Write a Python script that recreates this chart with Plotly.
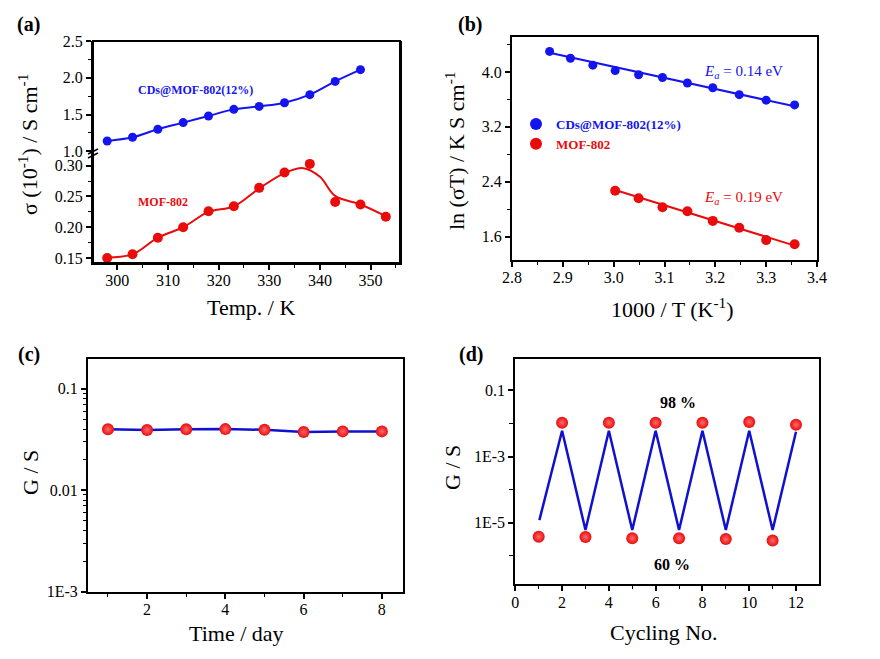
import plotly.graph_objects as go

W, H = 880, 659
FONT = "Liberation Serif, Times New Roman, serif"
BLUE = "#1414f0"
RED = "#e80c0c"

# ---------------- data ----------------
# (a) conductivity vs temperature
temp_cds = [298, 303, 308, 313, 318, 323, 328, 333, 338, 343, 348]
sigma_cds = [1.14, 1.19, 1.30, 1.39, 1.48, 1.57, 1.61, 1.66, 1.77, 1.95, 2.11]
temp_mof = [298, 303, 308, 313, 318, 323, 328, 333, 338, 343, 348, 353]
sigma_mof = [0.150, 0.156, 0.183, 0.200, 0.226, 0.234, 0.264, 0.289, 0.303, 0.241, 0.237, 0.217]
fit_temp_mof = [298, 303, 308, 313, 318, 323, 328, 333, 336.7, 340, 343, 348, 353]
fit_sigma_mof = [0.151, 0.156, 0.183, 0.200, 0.225, 0.234, 0.263, 0.288, 0.296, 0.282, 0.251, 0.237, 0.218]

# (b) Arrhenius plot
invT_cds = [2.874, 2.915, 2.959, 3.003, 3.049, 3.096, 3.145, 3.195, 3.247, 3.300, 3.356]
lnsT_cds = [4.30, 4.20, 4.10, 4.02, 3.96, 3.92, 3.84, 3.77, 3.67, 3.59, 3.52]
invT_mof = [3.003, 3.049, 3.096, 3.145, 3.195, 3.247, 3.300, 3.356]
lnsT_mof = [2.27, 2.16, 2.03, 1.97, 1.83, 1.73, 1.55, 1.49]
fit_invT_cds = [2.874, 3.356]
fit_lnsT_cds = [4.28, 3.50]
fit_invT_mof = [3.003, 3.356]
fit_lnsT_mof = [2.28, 1.47]

# (c) stability
days = [1, 2, 3, 4, 5, 6, 7, 8]
G_days = [0.0398, 0.0392, 0.0398, 0.0400, 0.0394, 0.0374, 0.0380, 0.0380]

# (d) cycling
cycles = [1, 2, 3, 4, 5, 6, 7, 8, 9, 10, 11, 12]
G_cycles = [3.8e-6, 1.05e-2, 3.7e-6, 1.05e-2, 3.4e-6, 1.05e-2, 3.4e-6, 1.05e-2, 3.2e-6, 1.1e-2, 2.9e-6, 9.1e-3]
line_cycles = [1.03, 2, 3, 4, 5, 6, 7, 8, 9, 10, 11, 12]
line_G = [1.2e-5, 6.0e-3, 6.0e-6, 6.0e-3, 6.0e-6, 6.0e-3, 6.0e-6, 6.0e-3, 6.0e-6, 6.0e-3, 6.0e-6, 5.6e-3]


def px(x):
    return x / W


def py(y):
    return 1 - y / H


red_marker = dict(color=RED, size=12, gradient=dict(type="radial", color="#ff6a6a"), line=dict(width=0))
blue_marker = dict(color=BLUE, size=9, line=dict(width=0))

fig = go.Figure()

# ---- panel (a) ----
fig.add_trace(go.Scatter(x=temp_cds, y=sigma_cds, mode="lines+markers", line=dict(color=BLUE, width=2, shape="spline"),
                         marker=blue_marker, xaxis="x", yaxis="y2", showlegend=False))
fig.add_trace(go.Scatter(x=fit_temp_mof, y=fit_sigma_mof, mode="lines", line=dict(color=RED, width=2, shape="spline"),
                         xaxis="x", yaxis="y", showlegend=False))
fig.add_trace(go.Scatter(x=temp_mof, y=sigma_mof, mode="markers", marker=dict(color=RED, size=10, line=dict(width=0)),
                         xaxis="x", yaxis="y", showlegend=False))

# ---- panel (b) ----
fig.add_trace(go.Scatter(x=fit_invT_cds, y=fit_lnsT_cds, mode="lines", line=dict(color=BLUE, width=2),
                         xaxis="x3", yaxis="y3", showlegend=False))
fig.add_trace(go.Scatter(x=fit_invT_mof, y=fit_lnsT_mof, mode="lines", line=dict(color=RED, width=2),
                         xaxis="x3", yaxis="y3", showlegend=False))
fig.add_trace(go.Scatter(x=invT_cds, y=lnsT_cds, mode="markers", marker=blue_marker, xaxis="x3", yaxis="y3",
                         name="<b><span style='color:%s'>CDs@MOF-802(12%%)</span></b>" % BLUE))
fig.add_trace(go.Scatter(x=invT_mof, y=lnsT_mof, mode="markers", marker=dict(color=RED, size=10, line=dict(width=0)),
                         xaxis="x3", yaxis="y3",
                         name="<b><span style='color:%s'>MOF-802</span></b>" % RED))

# ---- panel (c) ----
fig.add_trace(go.Scatter(x=days, y=G_days, mode="lines", line=dict(color="#1010d0", width=2.5),
                         xaxis="x4", yaxis="y4", showlegend=False))
fig.add_trace(go.Scatter(x=days, y=G_days, mode="markers", marker=red_marker,
                         xaxis="x4", yaxis="y4", showlegend=False))

# ---- panel (d) ----
fig.add_trace(go.Scatter(x=line_cycles, y=line_G, mode="lines", line=dict(color="#1010d0", width=2.5),
                         xaxis="x5", yaxis="y5", showlegend=False))
fig.add_trace(go.Scatter(x=cycles, y=G_cycles, mode="markers", marker=red_marker,
                         xaxis="x5", yaxis="y5", showlegend=False))

tickfont = dict(family=FONT, size=16, color="black")
base = dict(showline=True, linecolor="black", linewidth=2, ticks="outside", ticklen=5, tickwidth=1.5,
            tickcolor="black", showgrid=False, zeroline=False, tickfont=tickfont, automargin=False)
xbase = dict(base, ticklabelstandoff=-3)


def minor(**kw):
    d = dict(ticks="outside", ticklen=3, tickwidth=1.2, tickcolor="black", showgrid=False)
    d.update(kw)
    return d


# log minor tick positions
minor_c = [k * 10.0 ** n for n in (-3, -2, -1) for k in range(2, 10)]

fig.update_layout(
    width=W, height=H, margin=dict(l=0, r=0, t=0, b=0, autoexpand=False),
    plot_bgcolor="white", paper_bgcolor="white",
    font=dict(family=FONT, color="black"),
    # (a)
    xaxis=dict(xbase, domain=[px(93), px(400)], range=[295.2, 355.8], anchor="y", tickvals=[300, 310, 320, 330, 340, 350],
               minor=minor(dtick=5, tick0=300)),
    yaxis=dict(base, domain=[py(263), py(152)], range=[0.1419, 0.3223], anchor="x", mirror=True,
               tickvals=[0.15, 0.20, 0.25, 0.30], ticktext=["0.15", "0.20", "0.25", "0.30"],
               minor=minor(dtick=0.025, tick0=0.15)),
    yaxis2=dict(base, domain=[py(152), py(41)], range=[0.99, 2.5], anchor="x", mirror=True,
                tickvals=[1.0, 1.5, 2.0, 2.5], ticktext=["1.0", "1.5", "2.0", "2.5"],
                minor=minor(dtick=0.25, tick0=1.0)),
    # (b)
    xaxis3=dict(xbase, domain=[px(512), px(817)], range=[2.8, 3.4], anchor="y3", mirror=True,
                tickvals=[2.8, 2.9, 3.0, 3.1, 3.2, 3.3, 3.4], ticktext=["2.8", "2.9", "3.0", "3.1", "3.2", "3.3", "3.4"],
                minor=minor(dtick=0.05, tick0=2.8)),
    yaxis3=dict(base, domain=[py(260), py(37)], range=[1.26, 4.51], anchor="x3", mirror=True,
                tickvals=[1.6, 2.4, 3.2, 4.0], ticktext=["1.6", "2.4", "3.2", "4.0"],
                minor=minor(dtick=0.4, tick0=1.6)),
    # (c)
    xaxis4=dict(xbase, domain=[px(88), px(403)], range=[0.49, 8.54], anchor="y4", mirror=True,
                tickvals=[2, 4, 6, 8], minor=minor(tickvals=[1, 3, 5, 7])),
    yaxis4=dict(base, type="log", domain=[py(591.7), py(359)], range=[-3, -0.707], anchor="x4", mirror=True,
                tickvals=[0.001, 0.01, 0.1], ticktext=["1E-3", "0.01", "0.1"],
                minor=minor(tickvals=minor_c, ticklen=3)),
    # (d)
    xaxis5=dict(xbase, domain=[px(515.3), px(818.7)], range=[0, 12.97], anchor="y5", mirror=True,
                tickvals=[0, 2, 4, 6, 8, 10, 12], minor=minor(tickvals=[1, 3, 5, 7, 9, 11, 13])),
    yaxis5=dict(base, type="log", domain=[py(584.3), py(359.3)], range=[-6.86, -0.063], anchor="x5", mirror=True,
                tickvals=[1e-5, 1e-3, 1e-1], ticktext=["1E-5", "1E-3", "0.1"],
                minor=minor(tickvals=[1e-6, 1e-4, 1e-2], ticklen=4)),
    legend=dict(x=px(516), y=py(109), xanchor="left", yanchor="top", bgcolor="rgba(0,0,0,0)",
                font=dict(family=FONT, size=13), tracegroupgap=0, itemsizing="constant"),
)

# frame of panel (a) and axis break marks
fig.add_shape(type="rect", xref="paper", yref="paper", x0=px(93), x1=px(400), y0=py(263), y1=py(41),
              line=dict(color="black", width=2))
for dy in (0, 4):
    fig.add_shape(type="line", xref="paper", yref="paper", x0=px(88), x1=px(98), y0=py(154 + dy), y1=py(149 + dy),
                  line=dict(color="black", width=1.5))

ann = []


def text(x, y, s, size=17, color="black", bold=False, angle=0):
    if bold:
        s = "<b>%s</b>" % s
    ann.append(dict(x=px(x), y=py(y), xref="paper", yref="paper", text=s, showarrow=False, textangle=angle,
                    font=dict(family=FONT, size=size, color=color), xanchor="center", yanchor="middle"))


# panel letters
text(29, 25, "(a)", 20, bold=True)
text(470, 25, "(b)", 20, bold=True)
text(29, 354, "(c)", 20, bold=True)
text(471, 354, "(d)", 20, bold=True)

# axis titles
text(28, 145, "σ (10<sup>-1</sup>) / S cm<sup>-1</sup>", 22, angle=-90)
text(251, 308, "Temp. / K", 22)
text(455, 151, "ln (σT) / K S cm<sup>-1</sup>", 22, angle=-90)
text(672, 308, "1000 / T (K<sup>-1</sup>)", 22)
text(30, 472, "G / S", 22, angle=-90)
text(236, 633, "Time / day", 22)
text(452, 468, "G / S", 22, angle=-90)
text(664, 632, "Cycling No.", 22)

# in-plot labels
text(195, 90, "CDs@MOF-802(12%)", 12, color=BLUE, bold=True)
text(163, 202, "MOF-802", 12, color=RED, bold=True)
text(743, 72, "<i>E</i><sub><i>a</i></sub> = 0.14 eV", 15, color=BLUE)
text(743, 198, "<i>E</i><sub><i>a</i></sub> = 0.19 eV", 15, color=RED)
text(678, 402, "98 %", 16, bold=True)
text(672, 564, "60 %", 16, bold=True)

fig.update_layout(annotations=ann)
fig.write_html("out.html", config={"displayModeBar": False},
               post_script="document.body.style.margin='0px';document.body.style.overflow='hidden';")
